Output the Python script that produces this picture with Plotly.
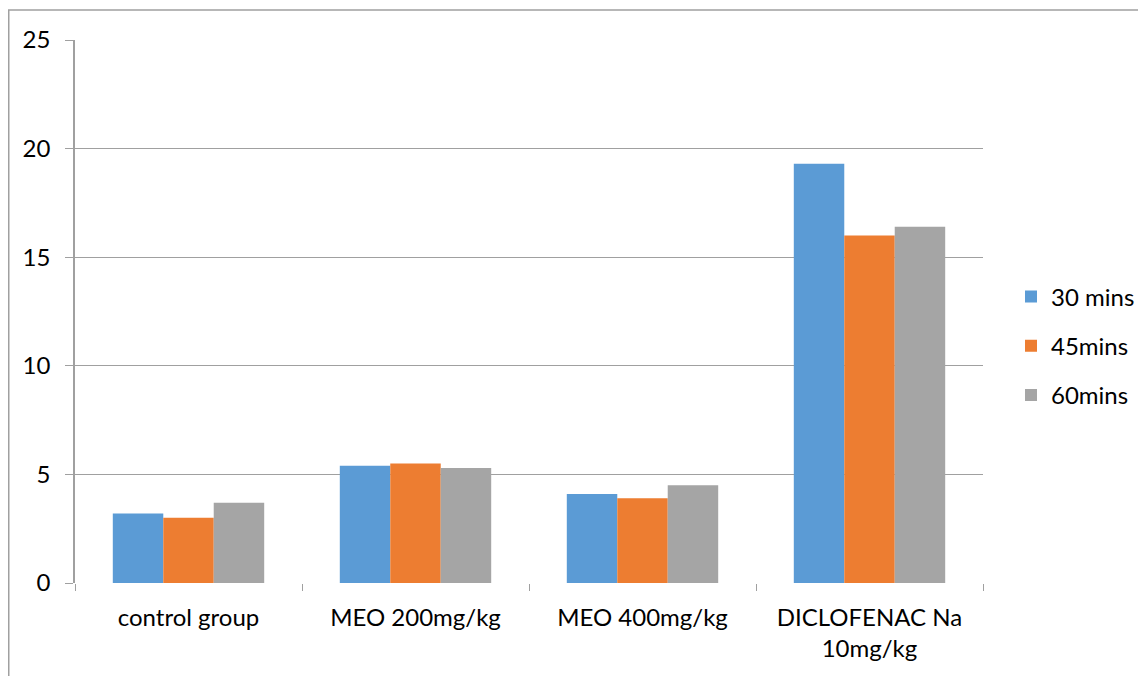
import plotly.graph_objects as go

categories = ["control group", "MEO 200mg/kg", "MEO 400mg/kg", "DICLOFENAC Na<br>10mg/kg"]
series_names = ["30 mins", "45mins", "60mins"]
vals_30 = [3.2, 5.4, 4.1, 19.3]
vals_45 = [3.0, 5.5, 3.9, 16.0]
vals_60 = [3.7, 5.3, 4.5, 16.4]
colors = ["#5B9BD5", "#ED7D31", "#A5A5A5"]
y_ticks = [0, 5, 10, 15, 20, 25]

# page has an 8px body margin, so the figure is drawn 8px in from top-left
OFF = 8
W, H = 1146 - OFF, 676 - OFF
L, R, T, B = 75 - OFF, 983 - OFF, 40 - OFF, 583 - OFF
pw, ph = R - L, B - T

fig = go.Figure()
for i, (name, vals) in enumerate(zip(series_names, [vals_30, vals_45, vals_60])):
    fig.add_trace(go.Bar(x=categories, y=vals, name=name, marker_color=colors[i],
                         marker_line_width=0, legendgroup=name))

grid = "#A0A0A0"
font = dict(family="Lato, 'Open Sans', sans-serif", size=24, color="#000000")
fig.update_layout(
    width=W, height=H,
    margin=dict(l=L, r=W - R, t=T, b=H - B, pad=0, autoexpand=False),
    paper_bgcolor="white", plot_bgcolor="white",
    font=font,
    barmode="group", bargap=0.333, bargroupgap=0,
    legend=dict(x=(1021 - OFF - 10 - L) / pw, xanchor="left", y=(B - (346 - OFF)) / ph,
                yanchor="middle", traceorder="grouped", tracegroupgap=15, font=font,
                bgcolor="rgba(0,0,0,0)"),
    xaxis=dict(showgrid=False, showline=False, ticks="outside", tickson="boundaries",
               ticklen=7, tickcolor=grid, tickwidth=1.3, ticklabelstandoff=18,
               tickfont=font, zeroline=False, automargin=False),
    yaxis=dict(range=[0, 25], tickvals=y_ticks, showgrid=True, gridcolor=grid, gridwidth=1.3,
               showline=True, linecolor=grid, linewidth=1.5, ticks="outside", ticklen=8,
               tickcolor=grid, tickwidth=1.3, ticklabelstandoff=10, tickfont=font,
               zeroline=False, automargin=False),
)
# Chart-area border (right/bottom edges run off the picture)
fig.add_shape(type="rect", xref="paper", yref="paper",
              x0=(0.75 - L) / pw, x1=(W + 10 - L) / pw,
              y0=(B - (H + 10)) / ph, y1=(B - (10 - OFF)) / ph,
              line=dict(color="#A0A0A0", width=1.5), layer="below")
fig.write_html("out.html")
